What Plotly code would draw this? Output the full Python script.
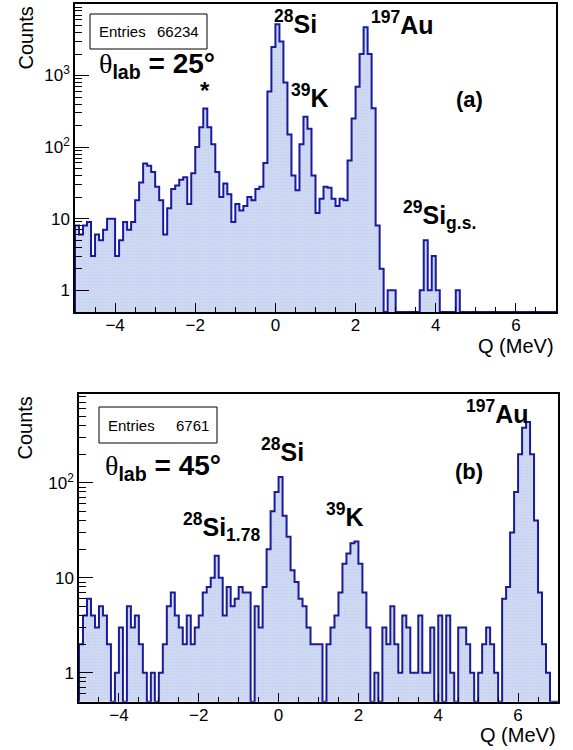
import numpy as np
import plotly.graph_objects as go

# ---------------- data (0.1 MeV bins from -5 to 7) ----------------
Q_MIN, Q_MAX, BIN_W = -5.0, 7.0, 0.1

counts_25deg = [
    8, 6, 8, 9, 3, 6, 5, 7, 10, 10,
    3, 5, 9, 7, 9, 18, 32, 59, 55, 45,
    28, 18, 6, 14, 26, 29, 35, 38, 16, 43,
    100, 190, 345, 190, 110, 45, 20, 31, 22, 9,
    16, 13, 15, 20, 18, 26, 28, 60, 600, 2500,
    5200, 3000, 800, 150, 40, 25, 110, 265, 180, 40,
    12, 19, 28, 27, 19, 15, 19, 18, 65, 250,
    700, 2000, 4750, 2000, 350, 8, 2, 0, 1, 1,
    0, 0, 0, 0, 0, 0, 1, 5, 1, 3,
    1, 0, 0, 0, 0, 1, 0, 0, 0, 0,
    0, 0, 0, 0, 0, 0, 0, 0, 0, 0,
    0, 0, 0, 0, 0, 0, 0, 0, 0, 0,
]

counts_45deg = [
    2, 4, 6, 4, 3, 5, 4, 2, 0, 1,
    3, 0, 5, 3, 4, 2, 1, 0, 1, 0,
    1, 2, 5, 7, 4, 3, 2, 4, 2, 3,
    4, 7, 8, 10, 17, 10, 4, 8, 5, 6,
    8, 7, 7, 0, 5, 3, 8, 20, 50, 80,
    115, 45, 27, 12, 9, 6, 5, 3, 2, 2,
    2, 0, 2, 3, 4, 7, 14, 18, 23, 24,
    14, 7, 3, 0, 1, 0, 3, 2, 5, 2,
    1, 4, 3, 1, 1, 4, 1, 1, 3, 0,
    4, 0, 4, 1, 0, 3, 3, 2, 1, 0,
    1, 2, 3, 2, 1, 0, 6, 8, 30, 80,
    200, 380, 437, 200, 40, 7, 2, 1, 0, 0,
]

panels = [
    dict(counts=counts_25deg, yrange=[-0.305, 4.0],
         major=[1, 10, 100, 1000],
         major_text=["1", "10", "10<sup>2</sup>", "10<sup>3</sup>"],
         decades=[0, 1, 2, 3]),
    dict(counts=counts_45deg, yrange=[-0.305, 2.934],
         major=[1, 10, 100],
         major_text=["1", "10", "10<sup>2</sup>"],
         decades=[-1, 0, 1, 2]),
]

W, H = 573, 750
LINE = "#1a1a9c"
FILL = "#d0dbf3"
FONT = "Liberation Sans"

def px(x):
    return x / W

def py(y):
    return 1 - y / H

edges = Q_MIN + BIN_W * np.arange(int(round((Q_MAX - Q_MIN) / BIN_W)) + 1)

fig = go.Figure()

domains = [
    dict(x=[px(75), px(556)], y=[py(312), py(4)]),
    dict(x=[px(79), px(558)], y=[py(701.7), py(394)]),
]

for k, pnl in enumerate(panels):
    floor = 10 ** pnl["yrange"][0]
    xs, ys = [edges[0]], [floor]
    for i, v in enumerate(pnl["counts"]):
        vv = v if v > 0 else floor
        xs += [edges[i], edges[i + 1]]
        ys += [vv, vv]
    xs.append(edges[-1])
    ys.append(floor)
    xa = "x" if k == 0 else "x2"
    ya = "y" if k == 0 else "y2"
    fig.add_trace(go.Scatter(x=xs, y=ys, mode="lines", fill="toself",
                             fillcolor=FILL, line=dict(width=0),
                             fillpattern=dict(shape="+", fgcolor="#adbfea",
                                              bgcolor=FILL, size=3, solidity=0.25),
                             hoverinfo="skip", showlegend=False,
                             xaxis=xa, yaxis=ya))
    fig.add_trace(go.Scatter(x=xs, y=ys, mode="lines",
                             line=dict(color=LINE, width=2),
                             hoverinfo="skip", showlegend=False,
                             xaxis=xa, yaxis=ya))

    minor_vals = [m * 10 ** d for d in pnl["decades"] for m in range(2, 10)]
    axis_x = dict(domain=domains[k]["x"], range=[Q_MIN, Q_MAX], tick0=0, dtick=2,
                  ticks="inside", ticklen=9, tickwidth=1, tickcolor="black",
                  showline=True, linecolor="black", linewidth=1.5, mirror=True,
                  showgrid=False, zeroline=False, ticklabelstandoff=-3,
                  tickfont=dict(family=FONT, size=17, color="black"),
                  minor=dict(dtick=0.5, ticks="inside", ticklen=5,
                             tickcolor="black", showgrid=False),
                  anchor=ya)
    axis_y = dict(domain=domains[k]["y"], type="log", range=pnl["yrange"],
                  tickmode="array", tickvals=pnl["major"], ticktext=pnl["major_text"],
                  ticks="inside", ticklen=14, tickwidth=1, tickcolor="black",
                  showline=True, linecolor="black", linewidth=1.5, mirror=True,
                  showgrid=False, zeroline=False,
                  tickfont=dict(family=FONT, size=17, color="black"),
                  minor=dict(tickmode="array", tickvals=minor_vals, ticks="inside",
                             ticklen=7, tickcolor="black", showgrid=False),
                  anchor=xa)
    if k == 0:
        fig.update_layout(xaxis=axis_x, yaxis=axis_y)
    else:
        fig.update_layout(xaxis2=axis_x, yaxis2=axis_y)

annotations = []

def ann(text, x, y, size, xanchor="center", yanchor="middle", angle=0):
    annotations.append(dict(text=text, x=px(x), y=py(y), xref="paper", yref="paper",
                            xanchor=xanchor, yanchor=yanchor, showarrow=False,
                            textangle=angle,
                            font=dict(family=FONT, size=size, color="black")))

theta = "<span style=\"font-family:'Liberation Serif'\">θ</span>"

# top panel text
ann("Entries", 97, 31.5, 15, "left")
ann("66234", 201, 31.5, 15, "right")
ann(theta + "<b><sub>lab</sub> = 25°</b>", 97, 66, 28, "left")
ann("<b>*</b>", 205, 91, 24)
ann("<b><sup>28</sup>Si</b>", 295, 22, 25)
ann("<b><sup>39</sup>K</b>", 310, 96, 25)
ann("<b><sup>197</sup>Au</b>", 402, 23, 25)
ann("<b>(a)</b>", 469, 100, 22)
ann("<b><sup>29</sup>Si<sub>g.s.</sub></b>", 439, 215, 25)
ann("Counts", 25, 5, 20, "center", "top", -90)
ann("Q (MeV)", 556, 346, 20, "right")

# bottom panel text
ann("Entries", 106, 425, 15, "left")
ann("6761", 211, 425, 15, "right")
ann(theta + "<b><sub>lab</sub> = 45°</b>", 103, 467, 28, "left")
ann("<b><sup>28</sup>Si<sub>1.78</sub></b>", 221, 527, 25)
ann("<b><sup>28</sup>Si</b>", 282, 450, 25)
ann("<b><sup>39</sup>K</b>", 345, 515, 25)
ann("<b>(b)</b>", 469, 471, 22)
ann("<b><sup>197</sup>Au</b>", 497, 412, 25)
ann("Q (MeV)", 558, 735, 20, "right")
ann("Counts", 25, 395, 20, "center", "top", -90)

shapes = [
    dict(type="rect", xref="paper", yref="paper", x0=px(90), x1=px(207),
         y0=py(49), y1=py(14), line=dict(color="black", width=1), fillcolor="white"),
    dict(type="rect", xref="paper", yref="paper", x0=px(99), x1=px(217),
         y0=py(443), y1=py(407), line=dict(color="black", width=1), fillcolor="white"),
]

fig.update_layout(width=W, height=H, margin=dict(l=0, r=0, t=0, b=0),
                  paper_bgcolor="white", plot_bgcolor="white",
                  annotations=annotations, shapes=shapes,
                  font=dict(family=FONT, color="black"))

fig.write_html("out.html")
